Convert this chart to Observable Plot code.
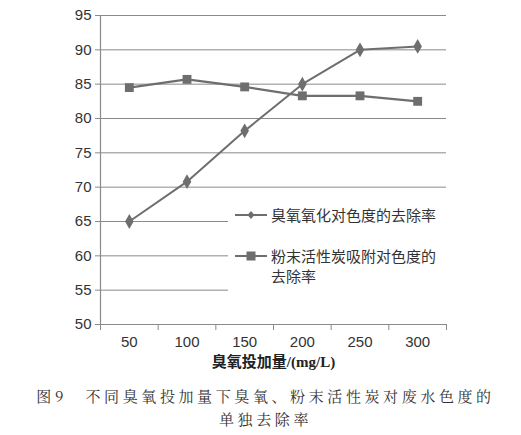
<!DOCTYPE html>
<html><head><meta charset="utf-8">
<script src="https://cdn.jsdelivr.net/npm/d3@7"></script>
<script src="https://cdn.jsdelivr.net/npm/@observablehq/plot@0.6"></script>
<style>
body{margin:0;background:#fff;font-family:"Liberation Sans",Arial,"Noto Sans CJK SC",sans-serif;}
#wrap{position:relative;width:521px;height:378px;}
#legend{position:absolute;left:228px;top:197px;width:232px;height:102px;background:#fff;color:#333;font-family:"Noto Sans CJK SC",sans-serif;font-size:15px;}
.row{position:absolute;left:6px;display:flex;align-items:flex-start;}
.row svg{flex:none;margin-right:3px;}
.row span{line-height:20px;white-space:nowrap;}
#caption{margin-top:6px;text-align:center;font-family:"Noto Serif CJK SC","Noto Sans CJK SC",serif;font-size:15px;line-height:23px;color:#333;letter-spacing:3.6px;padding-left:10px;}
</style></head><body>
<div id="wrap"><div id="chart"></div><div id="legend"></div></div>
<div id="caption"></div>
<script>
const doses = [50, 100, 150, 200, 250, 300];
const ozoneRemoval = [65.0, 70.8, 78.2, 85.0, 90.0, 90.5];
const pacRemoval = [84.5, 85.7, 84.6, 83.3, 83.3, 82.5];
const yTicks = [50, 55, 60, 65, 70, 75, 80, 85, 90, 95];
const xBoundaries = [25, 75, 125, 175, 225, 275, 325];
const seriesNames = ["臭氧氧化对色度的去除率", ["粉末活性炭吸附对色度的", "去除率"]];
const xLabel = "臭氧投加量/(mg/L)";
const captionLines = ["图9　不同臭氧投加量下臭氧、粉末活性炭对废水色度的", "单独去除率"];

const lineColor = "#6e6e6e";
const gridColor = "#8a8a8a";

const ozone = doses.map((d, i) => ({dose: d, value: ozoneRemoval[i]}));
const pac = doses.map((d, i) => ({dose: d, value: pacRemoval[i]}));

const chart = Plot.plot({
  width: 521,
  height: 378,
  marginTop: 15,
  marginBottom: 54,
  marginLeft: 100,
  marginRight: 75,
  style: {fontFamily: "'Liberation Sans', Arial, sans-serif", fontSize: "14px", color: "#333", background: "transparent"},
  x: {domain: [25, 325], axis: null},
  y: {domain: [50, 95], axis: null},
  marks: [
    Plot.ruleY(yTicks.slice(1), {x1: 25, x2: 325, stroke: gridColor, strokeWidth: 1}),
    Plot.ruleY([50], {x1: 25, x2: 325, stroke: gridColor, strokeWidth: 1.2}),
    Plot.ruleX([25], {y1: 50, y2: 95, stroke: gridColor, strokeWidth: 1.2}),
    Plot.axisY({ticks: yTicks, tickSize: 5, tickPadding: 4, stroke: gridColor, fontSize: 15, color: "#333", label: null}),
    Plot.axisX({ticks: xBoundaries, tickSize: 6, tickFormat: () => "", stroke: gridColor, label: null}),
    Plot.axisX({ticks: doses, tickSize: 0, tickPadding: 12, fontSize: 15, color: "#333", label: null}),
    Plot.text([xLabel], {frameAnchor: "bottom", dy: 42, fontWeight: "bold", fontSize: 15, fill: "#222", fontFamily: "'Liberation Serif', 'Noto Sans CJK SC', serif"}),
    Plot.line(ozone, {x: "dose", y: "value", stroke: lineColor, strokeWidth: 2}),
    Plot.dot(ozone, {x: "dose", y: "value", symbol: "diamond", r: 4.5, fill: lineColor, stroke: "none"}),
    Plot.line(pac, {x: "dose", y: "value", stroke: lineColor, strokeWidth: 2.2}),
    Plot.dot(pac, {x: "dose", y: "value", symbol: "square", r: 5, fill: lineColor, stroke: "none"})
  ]
});
document.getElementById("chart").append(chart);

// legend
const legend = document.getElementById("legend");
const swatch = (kind) => {
  const shape = kind === "diamond"
    ? `<path d="M17,6 L20.5,10 L17,14 L13.5,10 Z" fill="${lineColor}"/>`
    : `<rect x="12.5" y="5.5" width="9" height="9" fill="${lineColor}"/>`;
  return `<svg width="34" height="20"><line x1="1" y1="10" x2="33" y2="10" stroke="${lineColor}" stroke-width="2"/>${shape}</svg>`;
};
legend.innerHTML =
  `<div class="row" style="top:8px">${swatch("diamond")}<span>${seriesNames[0]}</span></div>` +
  `<div class="row" style="top:49px">${swatch("square")}<span>${seriesNames[1].join("<br>")}</span></div>`;

document.getElementById("caption").innerHTML = captionLines.map(l => `<div>${l}</div>`).join("");
</script>
</body></html>
